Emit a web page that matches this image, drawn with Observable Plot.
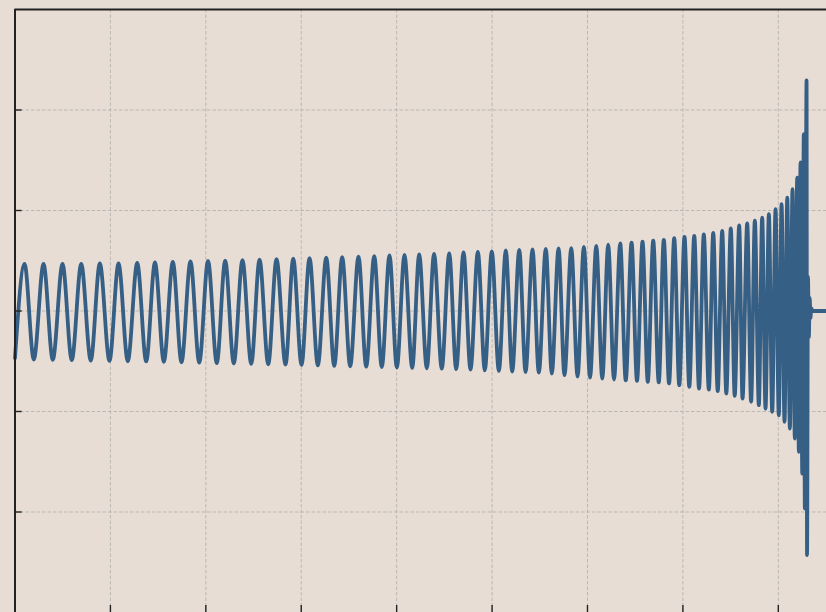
<!DOCTYPE html>
<html>
<head>
<meta charset="utf-8">
<script src="https://cdn.jsdelivr.net/npm/d3@7"></script>
<script src="https://cdn.jsdelivr.net/npm/@observablehq/plot@0.6"></script>
<style>
  html, body { margin: 0; padding: 0; background: #e8ddd4; overflow: hidden; }
  #chart svg { display: block; }
</style>
</head>
<body>
<div id="chart"></div>
<script>
// Inspiral strain: successive crests and troughs of the chirp (time, strain)
const leadT = [0];
const leadH = [-0.47];

const peakT = [
  0.100, 0.299, 0.498, 0.694, 0.889, 1.085, 1.281, 1.467, 1.654, 1.839,
  2.023, 2.203, 2.384, 2.563, 2.741, 2.916, 3.087, 3.262, 3.429, 3.600,
  3.765, 3.925, 4.082, 4.236, 4.392, 4.551, 4.701, 4.851, 4.997, 5.144,
  5.285, 5.424, 5.563, 5.697, 5.830, 5.962, 6.092, 6.217, 6.343, 6.462,
  6.577, 6.689, 6.800, 6.909, 7.017, 7.119, 7.219, 7.318, 7.412, 7.502,
  7.590, 7.674, 7.754, 7.831, 7.901, 7.971, 8.034, 8.094, 8.149, 8.198,
  8.233, 8.267, 8.296
];
const peakH = [
  0.468, 0.468, 0.468, 0.468, 0.473, 0.473, 0.478, 0.483, 0.488, 0.493,
  0.498, 0.502, 0.507, 0.512, 0.517, 0.522, 0.527, 0.532, 0.537, 0.542,
  0.547, 0.552, 0.557, 0.562, 0.567, 0.572, 0.582, 0.587, 0.592, 0.602,
  0.607, 0.612, 0.617, 0.622, 0.625, 0.639, 0.649, 0.659, 0.672, 0.679,
  0.689, 0.699, 0.708, 0.724, 0.738, 0.748, 0.761, 0.776, 0.796, 0.821,
  0.851, 0.871, 0.900, 0.930, 0.963, 1.013, 1.063, 1.129, 1.212, 1.328,
  1.478, 1.759, 2.294
];

const troughT = [
  0.197, 0.396, 0.595, 0.794, 0.990, 1.182, 1.375, 1.560, 1.745, 1.931,
  2.115, 2.293, 2.476, 2.654, 2.835, 3.003, 3.174, 3.346, 3.513, 3.681,
  3.844, 4.002, 4.163, 4.316, 4.473, 4.624, 4.774, 4.924, 5.071, 5.211,
  5.351, 5.490, 5.626, 5.759, 5.896, 6.027, 6.155, 6.278, 6.401, 6.519,
  6.632, 6.747, 6.855, 6.962, 7.067, 7.169, 7.272, 7.365, 7.455, 7.543,
  7.625, 7.715, 7.796, 7.866, 7.936, 8.005, 8.065, 8.121, 8.173, 8.215,
  8.251, 8.278, 8.301
];
const troughH = [
  -0.483, -0.486, -0.489, -0.493, -0.496, -0.500, -0.502, -0.505, -0.510, -0.514,
  -0.518, -0.522, -0.526, -0.530, -0.534, -0.537, -0.542, -0.546, -0.550, -0.554,
  -0.558, -0.562, -0.566, -0.570, -0.574, -0.579, -0.584, -0.590, -0.596, -0.602,
  -0.608, -0.614, -0.622, -0.639, -0.652, -0.662, -0.672, -0.682, -0.689, -0.695,
  -0.704, -0.711, -0.721, -0.738, -0.754, -0.771, -0.781, -0.798, -0.821, -0.844,
  -0.871, -0.903, -0.937, -0.970, -1.003, -1.037, -1.102, -1.169, -1.269, -1.401,
  -1.617, -1.965, -2.430
];

// Ringdown after merger, then the signal stays flat
const ringT = [8.311, 8.320, 8.329, 8.337, 8.345, 8.356, 8.505];
const ringH = [0.34, -0.26, 0.13, -0.07, 0.03, 0, 0];

// Grid and tick positions
const xTicks = [1, 2, 3, 4, 5, 6, 7, 8];
const yTicks = [-2, -1, 0, 1, 2];

const wave = [];
leadT.forEach((t, i) => wave.push({t, h: leadH[i]}));
peakT.forEach((t, i) => wave.push({t, h: peakH[i]}));
troughT.forEach((t, i) => wave.push({t, h: troughH[i]}));
ringT.forEach((t, i) => wave.push({t, h: ringH[i]}));
wave.sort((a, b) => a.t - b.t);

const gridStyle = {stroke: "#b0aeab", strokeOpacity: 0.9, strokeWidth: 0.9, strokeDasharray: "3.5,2"};
const ink = "#222222";

const chart = Plot.plot({
  width: 826,
  height: 612,
  marginLeft: 14.5,
  marginRight: 0,
  marginTop: 9,
  marginBottom: 0,
  style: {background: "#e8ddd4"},
  x: {domain: [0, 8.505], axis: null},
  y: {domain: [-3, 3], axis: null},
  marks: [
    Plot.ruleX(xTicks, gridStyle),
    Plot.ruleY(yTicks, gridStyle),
    Plot.line(wave, {x: "t", y: "h", curve: "monotone-x", stroke: "#365f86", strokeWidth: 3.8}),
    // frame spines
    Plot.ruleX([0], {stroke: ink, strokeWidth: 2}),
    Plot.ruleY([3], {stroke: ink, strokeWidth: 2}),
    // inward tick marks
    Plot.ruleY(yTicks, {x1: 0, x2: 0.075, stroke: ink, strokeWidth: 1.4}),
    Plot.ruleX(xTicks, {y1: -3, y2: -2.93, stroke: ink, strokeWidth: 1.4})
  ]
});

document.getElementById("chart").appendChild(chart);
</script>
</body>
</html>
